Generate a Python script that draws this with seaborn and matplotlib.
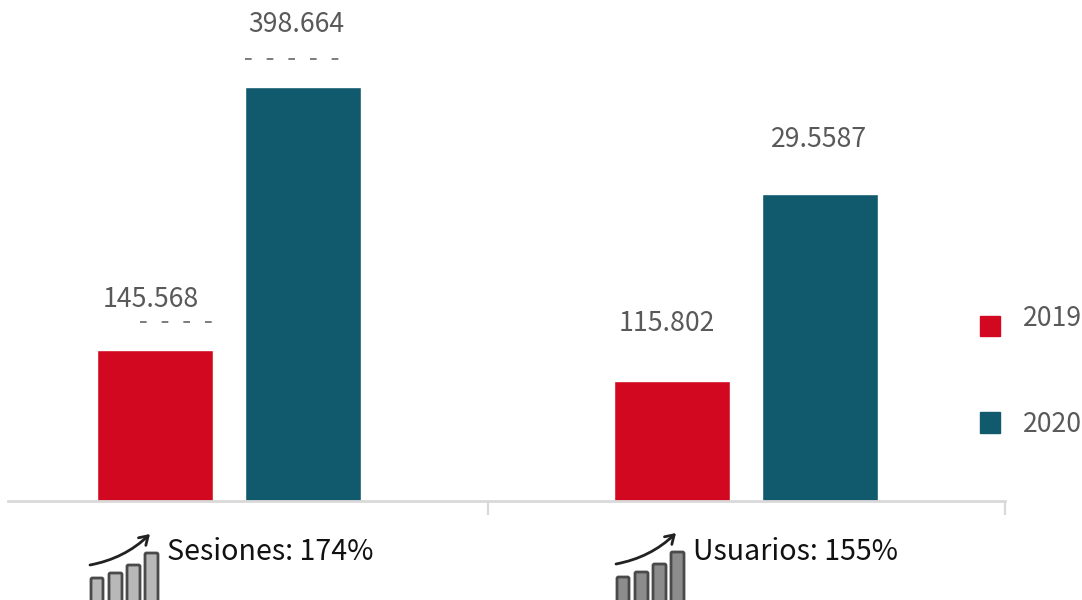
import numpy as np
import pandas as pd
import seaborn as sns
import matplotlib.pyplot as plt
from matplotlib.patches import FancyBboxPatch, Patch

categories = ['Sesiones', 'Usuarios']
years = ['2019', '2020']
values_2019 = [145.568, 115.802]
values_2020 = [398.664, 295.587]
labels_2019 = ['145.568', '115.802']
labels_2020 = ['398.664', '29.5587']
captions = ['Sesiones: 174%', 'Usuarios: 155%']
colors = ['#d20820', '#115a6e']

W, H = 1082, 600
sns.set_style('white')
plt.rcParams['font.family'] = ['Noto Sans CJK JP', 'DejaVu Sans']

df = pd.DataFrame({
    'cat': categories * 2,
    'year': [years[0]] * 2 + [years[1]] * 2,
    'val': values_2019 + values_2020,
})

fig = plt.figure(figsize=(W / 100, H / 100), dpi=100)
ax = fig.add_axes([8 / W, (H - 501) / H, (1004.5 - 8) / W, 501 / H])
sns.barplot(data=df, x='cat', y='val', hue='year', palette=colors, width=0.5725, gap=0.21,
            saturation=1, legend=False, ax=ax)
ax.set_xlim(-0.4275, 1.5)
ax.set_ylim(0, 398.664 * 501 / 414)
ax.set_xlabel('')
ax.set_ylabel('')
ax.set_yticks([])
ax.set_xticks([])
ax.set_xticks([0.5, 1.5], minor=True)
ax.tick_params(axis='x', which='minor', bottom=True, length=10, width=1.6, color='#d9d9d9')
sns.despine(ax=ax, left=True)
ax.spines['bottom'].set_color('#d9d9d9')
ax.spines['bottom'].set_linewidth(2)

# value labels, the gaps above the bars are not the same in the original
label_gaps = [[50, 57], [62, 55]]
label_shift = [[-4, -5], [-7, -1]]
for cont, labs, gaps, shifts in zip(ax.containers, [labels_2019, labels_2020], label_gaps, label_shift):
    for bar, lab, gap, sh in zip(cont, labs, gaps, shifts):
        ax.annotate(lab, (bar.get_x() + bar.get_width() / 2, bar.get_height()),
                    xytext=(sh * 0.72, gap * 0.72), textcoords='offset points',
                    ha='center', va='center', fontsize=19.2, color='#595959', annotation_clip=False)

handles = [Patch(color=c, label=y) for c, y in zip(colors, years)]
leg = ax.legend(handles=handles, loc='center left', bbox_to_anchor=(980 / W, (H - 376) / H),
                bbox_transform=fig.transFigure, frameon=False, fontsize=19.2, labelcolor='#595959',
                handlelength=0.75, handleheight=0.82, handletextpad=0.85, labelspacing=2.6,
                borderpad=0, borderaxespad=0)
# 2019 sits higher than its square in the original
leg.get_texts()[0].set_y(9)

# overlay in pixels for the little icons and leftovers
ov = fig.add_axes([0, 0, 1, 1], zorder=5)
ov.set_xlim(0, W)
ov.set_ylim(H, 0)
ov.axis('off')


def icon(dx, dy, fill):
    for x0, x1, top in [(91, 103, 578), (109, 122, 573), (127, 140, 565), (145, 158, 553)]:
        ov.add_patch(FancyBboxPatch((x0 + dx, top + dy), x1 - x0, 640 - top, boxstyle='round,pad=0,rounding_size=1.5',
                                    fc=fill, ec='#4a4a4a', lw=2))
    ov.annotate('', xy=(150 + dx, 534 + dy), xytext=(90 + dx, 565 + dy),
                arrowprops=dict(arrowstyle='->,head_length=0.6,head_width=0.38', lw=2, color='#222222',
                                connectionstyle='arc3,rad=0.15', shrinkA=0, shrinkB=0))


icon(0, 0, '#b8b8b8')
icon(526, -1, '#8c8c8c')

ov.text(167, 552, captions[0], fontsize=20.6, color='#111111', va='center', ha='left')
ov.text(693, 552, captions[1], fontsize=20.6, color='#111111', va='center', ha='left')

# small dashes left under two of the labels
ov.plot([245, 342], [58.5, 58.5], color='#666666', lw=1.2, dashes=(4, 9))
ov.plot([140, 213], [321.5, 321.5], color='#666666', lw=1.2, dashes=(4, 9))

fig.savefig('out.png', dpi=100)
